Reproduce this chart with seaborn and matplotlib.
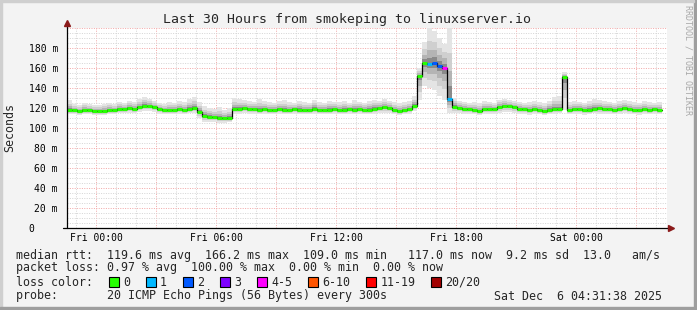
import numpy as np
import pandas as pd
import matplotlib
matplotlib.use("Agg")
import matplotlib.pyplot as plt
from matplotlib.ticker import MultipleLocator, FuncFormatter
from matplotlib.patches import Rectangle
import seaborn as sns

# ---------------- data (15-minute slots, hours relative to Fri 00:00) ----------------
start_hour = -1.45
slot_len = 0.25

median_ms = [
    118, 118, 117, 118, 118, 117,
    117, 117, 118, 118,
    119, 119, 120, 119,
    121, 122, 122, 121,
    119, 118, 118, 118,
    119, 118, 119, 120, 116,
    112, 111, 111, 110, 110, 110,
    119, 119, 120, 119, 119, 118, 119, 118, 118, 119, 118, 118, 119, 118, 118, 118, 119, 118, 118, 118, 119,
    118, 118, 119, 118, 119, 118, 118, 119, 120, 121, 120, 118, 117, 118, 119, 122,
    152,
    165, 164, 165, 162,
    160, 129,
    121, 120, 119, 119, 118, 117, 119, 119, 119, 121, 122, 122, 121, 119, 119, 118, 119, 118, 117, 118, 119,
    119, 151,
    118, 119, 119, 118, 118, 119, 120, 119, 119, 118, 119, 120, 119, 118, 118, 119, 118, 119, 118,
    np.nan,
]

smoke_hi = [
    128, 124, 123, 125, 124, 123,
    123, 124, 125, 124,
    126, 125, 127, 126,
    129, 131, 129, 127,
    125, 124, 126, 125,
    127, 126, 129, 131, 126,
    122, 120, 119, 121, 118, 120,
    130, 129, 128, 127, 126, 129, 127, 126, 125, 127, 128, 126, 125, 127, 126, 125, 128, 126, 125, 127, 126,
    126, 127, 125, 128, 126, 125, 127, 128, 127, 129, 127, 126, 125, 126, 127, 132,
    160,
    186, 200, 197, 190,
    184, 200,
    130, 127, 126, 125, 126, 125, 127, 126, 125, 128, 129, 128, 127, 126, 125, 126, 127, 126, 125, 127, 131,
    132, 156,
    126, 127, 126, 125, 127, 129, 128, 127, 126, 125, 127, 128, 127, 126, 125, 127, 126, 125, 126,
    np.nan,
]

smoke_lo = [
    114, 114, 113, 114, 114, 113,
    113, 113, 114, 114,
    115, 115, 115, 115,
    116, 117, 117, 116,
    114, 114, 114, 114,
    114, 114, 115, 115, 110,
    106, 106, 106, 105, 105, 106,
    114, 114, 115, 114, 114, 114, 114, 114, 114, 114, 114, 114, 114, 114, 114, 114, 114, 114, 114, 114, 114,
    114, 114, 114, 114, 114, 114, 114, 114, 115, 115, 115, 114, 113, 114, 114, 117,
    128,
    142, 140, 138, 132,
    128, 115,
    115, 115, 114, 114, 114, 113, 114, 114, 114, 115, 116, 116, 115, 114, 114, 113, 114, 114, 113, 114, 114,
    115, 118,
    114, 114, 114, 113, 114, 115, 114, 114, 114, 114, 114, 115, 114, 114, 113, 114, 114, 114, 114,
    np.nan,
]

# loss class index per slot (0 = no loss)
loss_level = [0] * 72 + [1, 2, 2, 4, 1] + [0] * 43

loss_labels = ["0", "1", "2", "3", "4-5", "6-10", "11-19", "20/20"]
loss_colors = ["#26ff00", "#00b8ff", "#0059ff", "#7e00ff", "#ff00ff", "#ff5500", "#ff0000", "#a10000"]

x_label_hours = [0, 6, 12, 18, 24]
x_label_text = ["Fri 00:00", "Fri 06:00", "Fri 12:00", "Fri 18:00", "Sat 00:00"]

title = "Last 30 Hours from smokeping to linuxserver.io"
legend_rtt = "median rtt:  119.6 ms avg  166.2 ms max  109.0 ms min   117.0 ms now  9.2 ms sd  13.0   am/s"
legend_loss = "packet loss: 0.97 % avg  100.00 % max  0.00 % min  0.00 % now"
probe_text = "probe:       20 ICMP Echo Pings (56 Bytes) every 300s"
date_text = "Sat Dec  6 04:31:38 2025"

# ---------------- figure ----------------
W, H = 697, 310
sns.set_style("white")
plt.rcParams["font.family"] = ["DejaVu Sans Mono", "DejaVu Sans"]

fig = plt.figure(figsize=(W / 100, H / 100), dpi=100, facecolor="#f3f3f3")

def fx(px):
    return px / W

def fy(py):
    return 1 - py / H

ax_left, ax_right, ax_top, ax_bottom = 67, 667, 28, 228
ax = fig.add_axes([fx(ax_left), fy(ax_bottom), (ax_right - ax_left) / W, (ax_bottom - ax_top) / H])
ax.set_facecolor("white")

x_min = start_hour
x_max = start_hour + 30.0
ax.set_xlim(x_min, x_max)
ax.set_ylim(0, 200)

# grid
ax.xaxis.set_major_locator(MultipleLocator(3))
ax.xaxis.set_minor_locator(MultipleLocator(1))
ax.yaxis.set_major_locator(MultipleLocator(20))
ax.yaxis.set_minor_locator(MultipleLocator(5))
ax.grid(which="minor", color="#d6d6d6", linestyle=(0, (1, 1.4)), linewidth=0.72)
ax.grid(which="major", color="#f2aaaa", linestyle=(0, (1, 1.4)), linewidth=0.72)
ax.set_axisbelow(True)

def xfmt(v, pos):
    for h, t in zip(x_label_hours, x_label_text):
        if abs(v - h) < 1e-6:
            return t
    return ""

def yfmt(v, pos):
    if abs(v) < 1e-6:
        return "0    "
    if v > 190:
        return ""
    return f"{int(round(v))} m"

ax.xaxis.set_major_formatter(FuncFormatter(xfmt))
ax.yaxis.set_major_formatter(FuncFormatter(yfmt))
ax.tick_params(axis="both", which="major", labelsize=7, length=2, width=0.7, colors="black", direction="out")
ax.tick_params(axis="y", which="major", pad=4.5)
ax.tick_params(axis="x", which="major", pad=1.5)
ax.tick_params(which="minor", length=0)
for s in ax.spines.values():
    s.set_visible(False)

# data frames
hours = start_hour + slot_len * np.arange(len(median_ms))
df = pd.DataFrame({
    "hour": hours,
    "median": median_ms,
    "lo": smoke_lo,
    "hi": smoke_hi,
    "loss": loss_level,
}).dropna()

# step edges
edge_x = np.append(df["hour"].values, df["hour"].values[-1] + slot_len)
med = np.append(df["median"].values, df["median"].values[-1])
lo = np.append(df["lo"].values, df["lo"].values[-1])
hi = np.append(df["hi"].values, df["hi"].values[-1])

# smoke layers (outer light -> inner dark)
for frac, col in [(1.0, "#e4e4e4"), (0.65, "#cfcfcf"), (0.4, "#b4b4b4"), (0.18, "#8a8a8a")]:
    ax.fill_between(edge_x, med - frac * (med - lo), med + frac * (hi - med),
                    step="post", color=col, linewidth=0, zorder=2)

# median (black step line)
line_df = pd.DataFrame({"hour": edge_x, "median": med})
sns.lineplot(data=line_df, x="hour", y="median", drawstyle="steps-post", color="black",
             linewidth=0.9, ax=ax, zorder=3, estimator=None, sort=False)

# loss coloured median segments
for k, col in enumerate(loss_colors):
    sub = df[df["loss"] == k]
    if len(sub):
        ax.hlines(sub["median"], sub["hour"], sub["hour"] + slot_len, colors=col,
                  linewidth=2.2, zorder=4)

ax.set_xlabel("")
ax.set_ylabel("")

# axis lines with arrows
ax.plot([x_min, x_min], [0, 205], color="black", linewidth=0.9, clip_on=False, zorder=5)
ax.plot([x_min - 0.2, x_max + 0.15], [0, 0], color="black", linewidth=0.9, clip_on=False, zorder=5)
ax.plot([x_min], [205], marker="^", color="#8b1a1a", markersize=4, clip_on=False, zorder=6)
ax.plot([x_max + 0.2], [0], marker=">", color="#8b1a1a", markersize=4, clip_on=False, zorder=6)

# texts
fig.text(fx(347), fy(19), title, ha="center", va="center", fontsize=9.5)
fig.text(fx(10), fy(128), "Seconds", rotation=90, ha="center", va="center", fontsize=8.4)
fig.text(fx(688), fy(60), "RRDTOOL / TOBI OETIKER", rotation=270, ha="center", va="center",
         fontsize=6, color="#a8a8a8")

fs = 8.4
cw = 7.02
fig.text(fx(16), fy(255), legend_rtt, ha="left", va="center", fontsize=fs)
fig.text(fx(16), fy(268), legend_loss, ha="left", va="center", fontsize=fs)
fig.text(fx(16), fy(282), "loss color:", ha="left", va="center", fontsize=fs)
xpos = 109
for lab, col in zip(loss_labels, loss_colors):
    fig.patches.append(Rectangle((fx(xpos), fy(287)), 10 / W, 10 / H, transform=fig.transFigure,
                                 facecolor=col, edgecolor="black", linewidth=0.8))
    fig.text(fx(xpos + 14), fy(282), lab, ha="left", va="center", fontsize=fs)
    xpos += 14 + len(lab) * cw + 16
fig.text(fx(16), fy(296), probe_text, ha="left", va="center", fontsize=fs)
fig.text(fx(662), fy(296), date_text, ha="right", va="center", fontsize=fs)

# border
fig.patches.append(Rectangle((1 - 3 / W, 0), 3 / W, 1, transform=fig.transFigure, color="#9e9e9e"))
fig.patches.append(Rectangle((0, 1 - 2 / H), 1 - 3 / W, 2 / H, transform=fig.transFigure, color="#cfcfcf"))
fig.patches.append(Rectangle((0, 2 / H), 2 / W, 1 - 4 / H, transform=fig.transFigure, color="#cfcfcf"))
fig.patches.append(Rectangle((0, 0), 1, 3 / H, transform=fig.transFigure, color="#9e9e9e"))

fig.savefig("out.png", dpi=100, facecolor=fig.get_facecolor())
